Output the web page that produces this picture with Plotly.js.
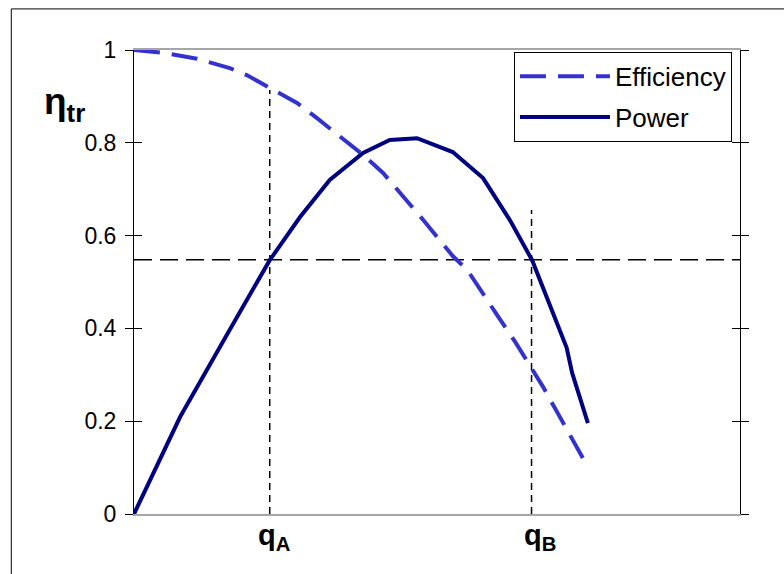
<!DOCTYPE html>
<html>
<head>
<meta charset="utf-8">
<script src="https://cdn.plot.ly/plotly-3.0.1.min.js"></script>
<style>html,body{margin:0;padding:0;background:#fff;}#chart{width:784px;height:574px;}</style>
</head>
<body>
<div id="chart"></div>
<script>
// Efficiency curve (dashed)
const effX = [0, 0.048, 0.104, 0.158, 0.186, 0.224, 0.269, 0.302, 0.340, 0.378, 0.411, 0.450, 0.477, 0.526, 0.550, 0.596, 0.629, 0.675, 0.723, 0.749];
const effY = [1.0, 0.994, 0.981, 0.961, 0.946, 0.918, 0.886, 0.853, 0.813, 0.774, 0.735, 0.677, 0.634, 0.556, 0.526, 0.435, 0.371, 0.274, 0.164, 0.101];
// Power curve (solid)
const powX = [0, 0.076, 0.158, 0.224, 0.274, 0.323, 0.378, 0.422, 0.467, 0.526, 0.576, 0.620, 0.657, 0.691, 0.714, 0.723, 0.749];
const powY = [0, 0.209, 0.397, 0.547, 0.640, 0.720, 0.778, 0.806, 0.810, 0.780, 0.724, 0.634, 0.547, 0.432, 0.358, 0.304, 0.196];
// Reference lines
const levelY = 0.548;
const levelX = [0, 1];
const qA = 0.224, qATop = 0.914;
const qB = 0.656, qBTop = 0.655;
const yTicks = [0, 0.2, 0.4, 0.6, 0.8, 1];
const xLabels = ['<b>q<sub>A</sub></b>', '<b>q<sub>B</sub></b>'];
const yTitle = '<b>η</b><sub><b>tr</b></sub>';

const FONT = 'Liberation Sans, Arial, sans-serif';

const traces = [
  {x: levelX, y: [levelY, levelY], mode: 'lines', showlegend: false, hoverinfo: 'skip',
   line: {color: '#000', width: 1.5, dash: '18px,8px'}},
  {x: [qA, qA], y: [0, qATop], mode: 'lines', showlegend: false, hoverinfo: 'skip',
   line: {color: '#000', width: 1.5, dash: '7px,5px'}},
  {x: [qB, qB], y: [0, qBTop], mode: 'lines', showlegend: false, hoverinfo: 'skip',
   line: {color: '#000', width: 1.5, dash: '7px,5px'}},
  {x: effX, y: effY, mode: 'lines', name: 'Efficiency', legendgroup: 'a',
   line: {color: '#3333CC', width: 4, dash: '26px,12px'}},
  {x: powX, y: powY, mode: 'lines', name: 'Power', legendgroup: 'b',
   line: {color: '#000080', width: 4}},
  {x: [0, 1], y: [0, 1], yaxis: 'y3', mode: 'lines', showlegend: false, hoverinfo: 'skip',
   line: {color: 'rgba(0,0,0,0)', width: 0}}
];

const layout = {
  width: 784, height: 574,
  margin: {l: 134, r: 44, t: 50, b: 60},
  paper_bgcolor: '#fff', plot_bgcolor: '#fff',
  font: {family: FONT, color: '#000', size: 23},
  showlegend: true,
  xaxis: {range: [0, 1], showgrid: false, zeroline: false, showline: true,
          linecolor: '#a6a6a6', linewidth: 2, mirror: true, showticklabels: false, ticks: ''},
  yaxis: {range: [0, 1], tickvals: yTicks, showgrid: false, zeroline: false, showline: true,
          linecolor: '#000', linewidth: 1, mirror: 'ticks', ticks: 'outside', ticklen: 8,
          tickwidth: 1, tickcolor: '#000', tickfont: {size: 23, family: FONT}, ticklabelstandoff: 4},
  yaxis3: {range: [0, 1], tickvals: yTicks, overlaying: 'y', showgrid: false, zeroline: false,
           showline: true, linecolor: '#000', linewidth: 1, mirror: 'ticks', ticks: 'inside',
           ticklen: 8, tickwidth: 1, tickcolor: '#000', showticklabels: false},
  legend: {x: 0.627, y: 0.996, xanchor: 'left', yanchor: 'top', bgcolor: '#fff',
           bordercolor: '#000', borderwidth: 1, font: {size: 26, family: FONT},
           traceorder: 'grouped', tracegroupgap: 4, itemwidth: 90},
  annotations: [
    {xref: 'paper', yref: 'paper', x: -0.152, y: 0.884, xanchor: 'left', yanchor: 'middle',
     text: yTitle, showarrow: false, font: {size: 37, family: FONT}},
    {xref: 'x', yref: 'paper', x: qA, y: -0.05, xanchor: 'center', yanchor: 'middle', xshift: 5,
     text: xLabels[0], showarrow: false, font: {size: 29, family: FONT}},
    {xref: 'x', yref: 'paper', x: qB, y: -0.05, xanchor: 'center', yanchor: 'middle', xshift: 8,
     text: xLabels[1], showarrow: false, font: {size: 29, family: FONT}}
  ],
  shapes: [
    {type: 'rect', xref: 'paper', yref: 'paper', x0: -0.2025, x1: 1.1, y0: -0.2, y1: 1.0885,
     line: {color: '#000', width: 1}, fillcolor: 'rgba(0,0,0,0)', layer: 'above'}
  ]
};

Plotly.newPlot('chart', traces, layout, {displayModeBar: false, staticPlot: true});
</script>
</body>
</html>
